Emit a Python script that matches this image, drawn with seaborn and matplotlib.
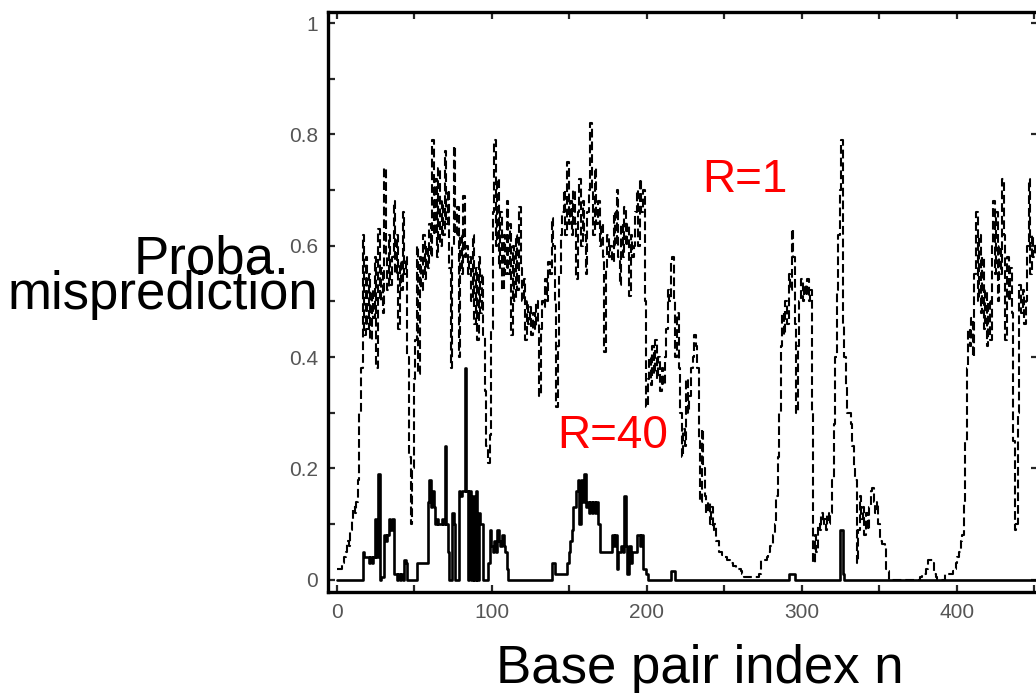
import numpy as np
import pandas as pd
import matplotlib
matplotlib.use("Agg")
import matplotlib.pyplot as plt
from matplotlib.ticker import MultipleLocator
import seaborn as sns

# misprediction probability per base pair (one value per bp, n = 0..451)
prob_r1 = [
    0.02, 0.02, 0.02, 0.02, 0.03, 0.04, 0.05, 0.07, 0.06, 0.09,
    0.11, 0.13, 0.12, 0.14, 0.18, 0.30, 0.38, 0.62, 0.44, 0.58,
    0.45, 0.55, 0.43, 0.52, 0.47, 0.58, 0.38, 0.63, 0.50, 0.56,
    0.48, 0.74, 0.58, 0.52, 0.62, 0.53, 0.58, 0.68, 0.55, 0.62,
    0.45, 0.57, 0.52, 0.66, 0.55, 0.58, 0.40, 0.22, 0.10, 0.20,
    0.36, 0.43, 0.60, 0.37, 0.58, 0.52, 0.62, 0.54, 0.60, 0.56,
    0.64, 0.58, 0.79, 0.62, 0.72, 0.58, 0.74, 0.60, 0.68, 0.62,
    0.77, 0.64, 0.70, 0.56, 0.38, 0.60, 0.78, 0.62, 0.67, 0.40,
    0.62, 0.55, 0.69, 0.58, 0.60, 0.55, 0.58, 0.50, 0.62, 0.46,
    0.56, 0.43, 0.58, 0.48, 0.55, 0.44, 0.34, 0.24, 0.21, 0.26,
    0.45, 0.66, 0.79, 0.60, 0.72, 0.56, 0.66, 0.52, 0.62, 0.55,
    0.68, 0.55, 0.64, 0.44, 0.60, 0.50, 0.62, 0.52, 0.67, 0.56,
    0.50, 0.54, 0.43, 0.50, 0.46, 0.49, 0.44, 0.48, 0.45, 0.50,
    0.46, 0.33, 0.45, 0.50, 0.49, 0.54, 0.50, 0.57, 0.55, 0.65,
    0.60, 0.50, 0.31, 0.42, 0.55, 0.62, 0.66, 0.70, 0.62, 0.75,
    0.64, 0.68, 0.62, 0.70, 0.64, 0.54, 0.66, 0.72, 0.60, 0.68,
    0.62, 0.55, 0.66, 0.70, 0.82, 0.70, 0.62, 0.74, 0.64, 0.68,
    0.60, 0.64, 0.58, 0.41, 0.56, 0.62, 0.58, 0.60, 0.57, 0.66,
    0.60, 0.70, 0.58, 0.53, 0.64, 0.58, 0.67, 0.60, 0.64, 0.51,
    0.62, 0.58, 0.60, 0.66, 0.70, 0.60, 0.72, 0.66, 0.70, 0.50,
    0.31, 0.36, 0.40, 0.35, 0.42, 0.37, 0.43, 0.36, 0.40, 0.34,
    0.38, 0.35, 0.40, 0.45, 0.52, 0.50, 0.57, 0.58, 0.50, 0.40,
    0.48, 0.38, 0.30, 0.22, 0.27, 0.24, 0.36, 0.30, 0.33, 0.38,
    0.40, 0.44, 0.42, 0.38, 0.25, 0.14, 0.27, 0.20, 0.15, 0.12,
    0.14, 0.10, 0.13, 0.09, 0.10, 0.07, 0.07, 0.05, 0.05, 0.045,
    0.04, 0.04, 0.035, 0.035, 0.03, 0.03, 0.025, 0.025, 0.02, 0.02,
    0.02, 0.015, 0.01, 0.005, 0.005, 0.005, 0.005, 0.005, 0.005, 0.005,
    0.005, 0.005, 0.005, 0.01, 0.035, 0.035, 0.035, 0.035, 0.04, 0.05,
    0.06, 0.06, 0.08, 0.10, 0.15, 0.22, 0.30, 0.42, 0.48, 0.44,
    0.50, 0.46, 0.55, 0.52, 0.63, 0.58, 0.46, 0.30, 0.42, 0.50,
    0.54, 0.50, 0.53, 0.51, 0.54, 0.50, 0.52, 0.30, 0.03, 0.08,
    0.05, 0.10, 0.09, 0.12, 0.10, 0.11, 0.09, 0.12, 0.10, 0.12,
    0.18, 0.28, 0.40, 0.52, 0.62, 0.70, 0.79, 0.46, 0.40, 0.35,
    0.30, 0.30, 0.28, 0.24, 0.20, 0.18, 0.03, 0.09, 0.15, 0.11,
    0.13, 0.08, 0.12, 0.09, 0.13, 0.16, 0.165, 0.14, 0.12, 0.14,
    0.10, 0.07, 0.065, 0.065, 0.06, 0.02, 0.015, 0.0, 0.0, 0.0,
    0.0, 0.0, 0.0, 0.0, 0.0, 0.0, 0.0, 0.0, 0.0, 0.0,
    0.0, 0.0, 0.0, 0.0, 0.0, 0.0, 0.0, 0.005, 0.01, 0.01,
    0.01, 0.02, 0.035, 0.035, 0.035, 0.03, 0.01, 0.005, 0.0, 0.0,
    0.0, 0.0, 0.0, 0.01, 0.01, 0.01, 0.01, 0.01, 0.015, 0.02,
    0.03, 0.04, 0.05, 0.07, 0.08, 0.14, 0.25, 0.38, 0.45, 0.42,
    0.47, 0.40, 0.55, 0.66, 0.50, 0.62, 0.48, 0.58, 0.45, 0.52,
    0.42, 0.50, 0.43, 0.60, 0.68, 0.55, 0.66, 0.50, 0.60, 0.55,
    0.72, 0.62, 0.43, 0.58, 0.50, 0.56, 0.48, 0.25, 0.09, 0.10,
    0.30, 0.53, 0.48, 0.52, 0.46, 0.50, 0.60, 0.72, 0.55, 0.62,
    0.58, 0.60,
]

prob_r40 = (
    [0.0] * 17
    + [0.05, 0.04, 0.04,
       0.04, 0.03, 0.04, 0.03, 0.04, 0.11, 0.04, 0.19, 0.0, 0.005,
       0.005, 0.08, 0.07, 0.08, 0.11, 0.09, 0.11, 0.01, 0.01, 0.0,
       0.01, 0.0, 0.01, 0.0, 0.035, 0.03, 0.0, 0.0, 0.0, 0.0,
       0.0, 0.0, 0.03, 0.03, 0.03, 0.03, 0.03, 0.03, 0.03, 0.14,
       0.18, 0.13, 0.16, 0.13, 0.10, 0.11, 0.10, 0.10, 0.11, 0.10,
       0.24, 0.10, 0.05, 0.0, 0.0, 0.12, 0.10, 0.0, 0.0, 0.16,
       0.15, 0.16, 0.16, 0.38, 0.16, 0.0, 0.16, 0.0, 0.15, 0.0,
       0.16, 0.0, 0.12, 0.10, 0.10, 0.0, 0.0, 0.0, 0.03, 0.09,
       0.06, 0.05, 0.07, 0.05, 0.09, 0.07, 0.06, 0.08, 0.06, 0.05,
       0.02]
    + [0.0] * 28
    + [0.03, 0.03]
    + [0.01] * 8
    + [0.03,
       0.05, 0.07, 0.09, 0.13, 0.13, 0.16, 0.18, 0.10, 0.18, 0.14,
       0.19, 0.13, 0.14, 0.12, 0.14, 0.12, 0.14, 0.12, 0.14, 0.10,
       0.05, 0.05, 0.05, 0.05, 0.05, 0.05, 0.05, 0.05, 0.08, 0.06,
       0.08, 0.02, 0.05, 0.05, 0.06, 0.05, 0.15, 0.06, 0.01, 0.06,
       0.03, 0.05, 0.05, 0.05, 0.08, 0.08, 0.06, 0.08, 0.02, 0.02,
       0.01]
    + [0.0] * 15
    + [0.015, 0.015, 0.015]
    + [0.0] * 73
    + [0.01, 0.01, 0.01, 0.01]
    + [0.0] * 29
    + [0.09, 0.09, 0.01]
    + [0.0] * 124
)

x_major_ticks = [0, 100, 200, 300, 400]
y_major_ticks = [0, 0.2, 0.4, 0.6, 0.8, 1.0]
y_tick_labels = ["0", "0.2", "0.4", "0.6", "0.8", "1"]

n = len(prob_r1)
df = pd.DataFrame({
    "bp": np.concatenate([np.arange(n), np.arange(len(prob_r40))]),
    "prob": np.concatenate([prob_r1, prob_r40]),
    "R": ["R=1"] * n + ["R=40"] * len(prob_r40),
})

sns.set_style("ticks")
plt.rcParams["font.family"] = ["Liberation Sans", "DejaVu Sans"]
plt.rcParams["text.color"] = "black"

W, H = 1036, 693
fig = plt.figure(figsize=(W / 100, H / 100), dpi=100)
ax = fig.add_axes([328 / W, 1 - 592 / H, (1038 - 328) / W, (592 - 12) / H])

sns.lineplot(data=df[df.R == "R=1"], x="bp", y="prob", ax=ax, color="black",
             lw=1.5, drawstyle="steps-mid", legend=False)
ax.lines[-1].set_dashes((4.2, 1.9))
sns.lineplot(data=df[df.R == "R=40"], x="bp", y="prob", ax=ax, color="black",
             lw=1.9, drawstyle="steps-mid", legend=False)

ax.set_xlim(-5.8, 452.5)
ax.set_ylim(-0.022, 1.02)
ax.set_xlabel("")
ax.set_ylabel("")

ax.set_xticks(x_major_ticks)
ax.set_xticklabels([str(t) for t in x_major_ticks])
ax.xaxis.set_minor_locator(MultipleLocator(50))
ax.set_yticks(y_major_ticks)
ax.set_yticklabels(y_tick_labels)
ax.yaxis.set_minor_locator(MultipleLocator(0.1))

ax.tick_params(which="both", direction="in", length=5, width=1.6,
               top=True, bottom=True, left=True, right=False)
ax.tick_params(which="major", right=True)
ax.tick_params(axis="x", which="major", labelsize=15, labelcolor="#555555", pad=8)
ax.tick_params(axis="y", which="major", labelsize=15, labelcolor="#555555", pad=7)
for s in ax.spines.values():
    s.set_linewidth(2.4)
    s.set_color("black")

fig.text(702 / W, 1 - 192 / H, "R=1", color="red", fontsize=33, va="baseline", ha="left")
fig.text(557 / W, 1 - 448 / H, "R=40", color="red", fontsize=33, va="baseline", ha="left")
fig.text(700 / W, 1 - 683 / H, "Base pair index n", color="black", fontsize=38,
         va="baseline", ha="center")
fig.text(289 / W, 1 - 273 / H, "Proba.", color="black", fontsize=38, va="baseline", ha="right")
fig.text(318 / W, 1 - 309 / H, "misprediction", color="black", fontsize=38,
         va="baseline", ha="right")

fig.savefig("out.png", dpi=100)
